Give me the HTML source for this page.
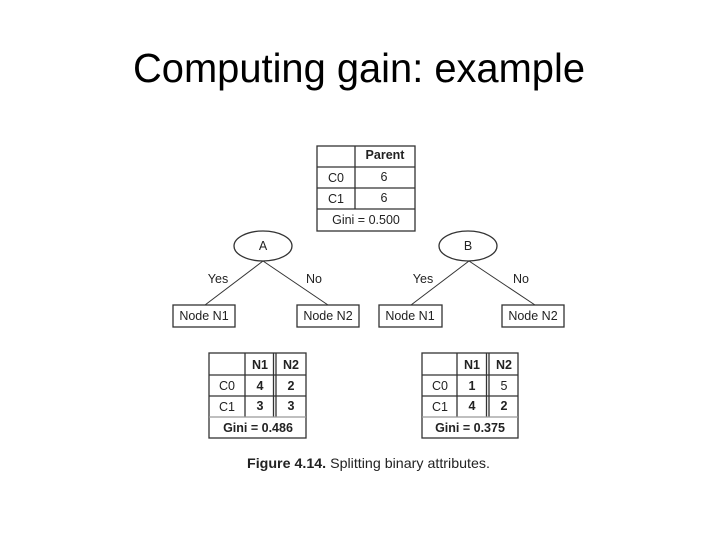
<!DOCTYPE html>
<html><head><meta charset="utf-8"><style>
html,body{margin:0;padding:0;background:#fff;}
svg{display:block;}
text{font-family:"Liberation Sans",Arial,sans-serif;fill:#222;}
</style></head><body>
<svg width="720" height="540" viewBox="0 0 720 540" xmlns="http://www.w3.org/2000/svg">
<text x="359" y="82" font-size="41" text-anchor="middle" textLength="452" lengthAdjust="spacingAndGlyphs" style="fill:#000">Computing gain: example</text>

<g stroke="#333" stroke-width="1.3" fill="none">
<!-- parent table -->
<rect x="317" y="146" width="98" height="85"/>
<line x1="355" y1="146" x2="355" y2="209"/>
<line x1="317" y1="167" x2="415" y2="167"/>
<line x1="317" y1="188" x2="415" y2="188"/>
<line x1="317" y1="209" x2="415" y2="209"/>
<!-- ellipses -->
<ellipse cx="263" cy="246" rx="29" ry="15"/>
<ellipse cx="468" cy="246" rx="29" ry="15"/>
<line x1="263" y1="261" x2="205" y2="305" stroke-width="1"/>
<line x1="263" y1="261" x2="328" y2="305" stroke-width="1"/>
<line x1="469" y1="261" x2="411" y2="305" stroke-width="1"/>
<line x1="469" y1="261" x2="535" y2="305" stroke-width="1"/>
<rect x="173" y="305" width="62" height="22"/>
<rect x="297" y="305" width="62" height="22"/>
<rect x="379" y="305" width="63" height="22"/>
<rect x="502" y="305" width="62" height="22"/>
<!-- left table -->
<rect x="209" y="353" width="97" height="85"/>
<line x1="245" y1="353" x2="245" y2="417"/>
<line x1="273.5" y1="353" x2="273.5" y2="417"/>
<line x1="276" y1="353" x2="276" y2="417"/>
<line x1="209" y1="375" x2="306" y2="375"/>
<line x1="209" y1="396" x2="306" y2="396"/>
<line x1="209" y1="417" x2="306" y2="417" stroke="#999"/>
<!-- right table -->
<rect x="422" y="353" width="96" height="85"/>
<line x1="457" y1="353" x2="457" y2="417"/>
<line x1="486.5" y1="353" x2="486.5" y2="417"/>
<line x1="489" y1="353" x2="489" y2="417"/>
<line x1="422" y1="375" x2="518" y2="375"/>
<line x1="422" y1="396" x2="518" y2="396"/>
<line x1="422" y1="417" x2="518" y2="417" stroke="#999"/>
</g>

<g font-size="12.5" text-anchor="middle">
<text x="385" y="159" font-weight="bold">Parent</text>
<text x="336" y="182">C0</text><text x="384" y="181">6</text>
<text x="336" y="203">C1</text><text x="384" y="202">6</text>
<text x="366" y="224">Gini = 0.500</text>
<text x="263" y="250">A</text>
<text x="468" y="250">B</text>
<text x="218" y="283">Yes</text><text x="314" y="283">No</text>
<text x="423" y="283">Yes</text><text x="521" y="283">No</text>
<text x="204" y="320">Node N1</text>
<text x="328" y="320">Node N2</text>
<text x="410" y="320">Node N1</text>
<text x="533" y="320">Node N2</text>

<text x="260" y="369" font-weight="bold">N1</text><text x="291" y="369" font-weight="bold">N2</text>
<text x="227" y="390">C0</text><text x="260" y="390" font-weight="bold">4</text><text x="291" y="390" font-weight="bold">2</text>
<text x="227" y="411">C1</text><text x="260" y="410" font-weight="bold">3</text><text x="291" y="410" font-weight="bold">3</text>
<text x="258" y="432" font-weight="bold">Gini = 0.486</text>

<text x="472" y="369" font-weight="bold">N1</text><text x="504" y="369" font-weight="bold">N2</text>
<text x="440" y="390">C0</text><text x="472" y="390" font-weight="bold">1</text><text x="504" y="390">5</text>
<text x="440" y="411">C1</text><text x="472" y="410" font-weight="bold">4</text><text x="504" y="410" font-weight="bold">2</text>
<text x="470" y="432" font-weight="bold">Gini = 0.375</text>
</g>
<text x="247" y="468" font-size="14" textLength="243" lengthAdjust="spacingAndGlyphs"><tspan font-weight="bold">Figure 4.14.</tspan>  Splitting binary attributes.</text>
</svg>
</body></html>
